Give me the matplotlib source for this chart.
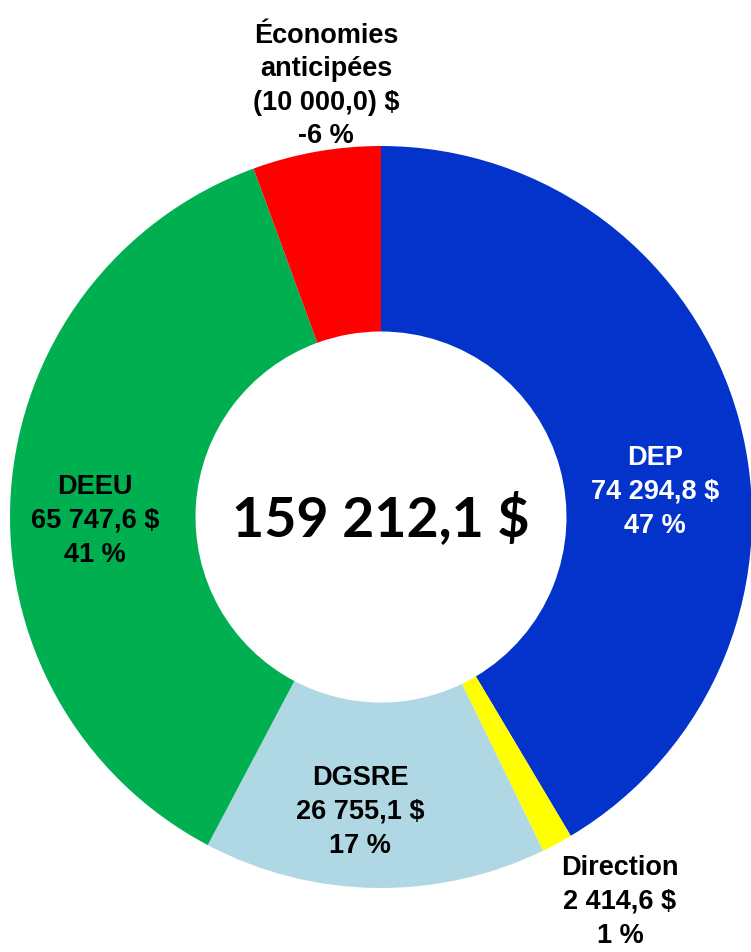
import matplotlib.pyplot as plt
import numpy as np

# segments, clockwise from the top
names = ['DEP', 'Direction', 'DGSRE', 'DEEU', 'Économies\nanticipées']
amounts = [74294.8, 2414.6, 26755.1, 65747.6, -10000.0]
amount_labels = ['74 294,8 $', '2 414,6 $', '26 755,1 $', '65 747,6 $', '(10 000,0) $']
pct = [47, 1, 17, 41, -6]
total_label = '159 212,1 $'

colors = ['#0433cc', '#ffff00', '#b0d8e4', '#00b050', '#ff0000']
text_colors = ['white', 'black', 'black', 'black', 'black']
# label centers in figure pixels (x, y from top)
label_pos = [(655, 492), (620, 902), (360, 812), (95, 521), (326, 86)]

W, H = 751, 953
cx, cy, R = 381, 518, 371

fig = plt.figure(figsize=(W / 100, H / 100), dpi=100)
ax = fig.add_axes([0, 0, 1, 1])

ax.pie(np.abs(amounts), colors=colors, startangle=90, counterclock=False,
       radius=1, wedgeprops=dict(width=0.5, linewidth=0))
ax.set_xlim(-cx / R, (W - cx) / R)
ax.set_ylim(-(H - cy) / R, cy / R)
ax.set_aspect('equal')
ax.axis('off')

for name, amt, p, tc, (px, py) in zip(names, amount_labels, pct, text_colors, label_pos):
    txt = '%s\n%s\n%d %%' % (name, amt, p)
    fig.text(px / W, 1 - py / H, txt, ha='center', va='center', color=tc,
             fontsize=19.5, fontweight='bold', family='Liberation Sans',
             linespacing=1.38)

ax.text(0, 0.0, total_label, ha='center', va='center', fontsize=40,
        fontweight='bold', family='Lato')

plt.savefig('out.png', dpi=100)
